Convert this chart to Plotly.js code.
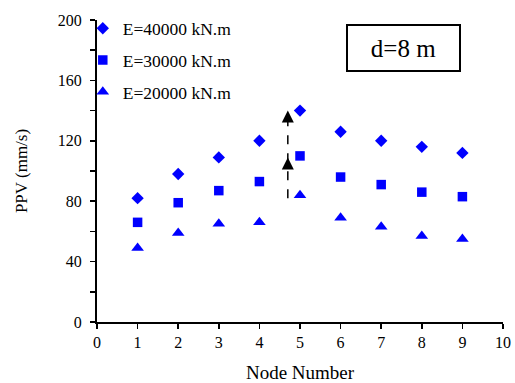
<!DOCTYPE html>
<html>
<head>
<meta charset="utf-8">
<script src="https://cdn.plot.ly/plotly-3.0.1.min.js"></script>
<style>html,body{margin:0;padding:0;background:#fff;}#chart{width:515px;height:383px;}</style>
</head>
<body>
<div id="chart"></div>
<script>
const nodes = [1, 2, 3, 4, 5, 6, 7, 8, 9];
const ppvE40000 = [82, 98, 109, 120, 140, 126, 120, 116, 112];
const ppvE30000 = [66, 79, 87, 93, 110, 96, 91, 86, 83];
const ppvE20000 = [49, 59, 65, 66, 84, 69, 63, 57, 55];
const seriesNames = ['E=40000 kN.m', 'E=30000 kN.m', 'E=20000 kN.m'];
const xTicks = [0, 1, 2, 3, 4, 5, 6, 7, 8, 9, 10];
const yTicks = [0, 40, 80, 120, 160, 200];
const arrowX = 4.7;
const arrowFrom = 82;
const arrowMid = 109;
const arrowTo = 140;

const font = 'Liberation Serif';
const blue = '#0000FF';

const traces = [
  {x: nodes, y: ppvE40000, name: seriesNames[0], symbol: 'diamond', size: 9.5},
  {x: nodes, y: ppvE30000, name: seriesNames[1], symbol: 'square', size: 9.5},
  {x: nodes, y: ppvE20000, name: seriesNames[2], symbol: 'triangle-up', size: 11}
].map((t, i) => ({
  x: t.x, y: t.y, name: t.name, type: 'scatter', mode: 'markers',
  legendgroup: 'g' + i,
  marker: {symbol: t.symbol, size: t.size, color: blue, line: {width: 0}},
  cliponaxis: false
}));

const layout = {
  width: 515, height: 383,
  margin: {l: 97, r: 12, t: 20, b: 61, autoexpand: false},
  paper_bgcolor: '#fff', plot_bgcolor: '#fff',
  font: {family: font, size: 15, color: '#000'},
  showlegend: true,
  legend: {
    x: -0.035, y: 1.032, xanchor: 'left', yanchor: 'top',
    bgcolor: 'rgba(0,0,0,0)', font: {family: font, size: 17.5, color: '#000'},
    traceorder: 'grouped', tracegroupgap: 6, itemwidth: 30
  },
  xaxis: {
    range: [0, 10], tickvals: xTicks, ticktext: xTicks.map(String),
    showgrid: false, zeroline: false, showline: true, linecolor: '#000', linewidth: 2,
    ticks: 'outside', ticklen: 5, tickwidth: 1.5, tickcolor: '#000',
    tickfont: {family: font, size: 16}, automargin: false,
    title: {text: 'Node Number', font: {family: font, size: 19}, standoff: 17}
  },
  yaxis: {
    range: [0, 200], tickvals: yTicks, ticktext: yTicks.map(String),
    showgrid: false, zeroline: false, showline: true, linecolor: '#000', linewidth: 2,
    ticks: 'outside', ticklen: 5, tickwidth: 1.5, tickcolor: '#000', ticklabelstandoff: 5,
    minor: {dtick: 20, ticks: 'outside', ticklen: 5, tickwidth: 1.5, tickcolor: '#000', showgrid: false},
    tickfont: {family: font, size: 16}, automargin: false,
    title: {text: 'PPV (mm/s)', font: {family: font, size: 17}, standoff: 26}
  },
  shapes: [
    {type: 'line', xref: 'x', yref: 'y', x0: arrowX, x1: arrowX, y0: arrowFrom, y1: arrowTo - 4,
     line: {color: '#000', width: 1.5, dash: 'dash'}}
  ],
  annotations: [
    {xref: 'x', yref: 'y', x: arrowX, y: arrowTo, axref: 'x', ayref: 'y', ax: arrowX, ay: arrowTo - 6,
     showarrow: true, arrowhead: 2, arrowsize: 1.6, arrowwidth: 1.5, arrowcolor: '#000', text: ''},
    {xref: 'x', yref: 'y', x: arrowX, y: arrowMid, axref: 'x', ayref: 'y', ax: arrowX, ay: arrowMid - 6,
     showarrow: true, arrowhead: 2, arrowsize: 1.6, arrowwidth: 1.5, arrowcolor: '#000', text: ''},
    {xref: 'paper', yref: 'paper', x: (403 - 97) / 406, y: (322 - 48) / 302, xanchor: 'center', yanchor: 'middle',
     text: 'd=8 m', showarrow: false, font: {family: font, size: 25, color: '#000'},
     bordercolor: '#000', borderwidth: 2, borderpad: 2, width: 107, height: 40, bgcolor: '#fff'}
  ]
};

Plotly.newPlot('chart', traces, layout, {displayModeBar: false, staticPlot: true});
</script>
</body>
</html>
